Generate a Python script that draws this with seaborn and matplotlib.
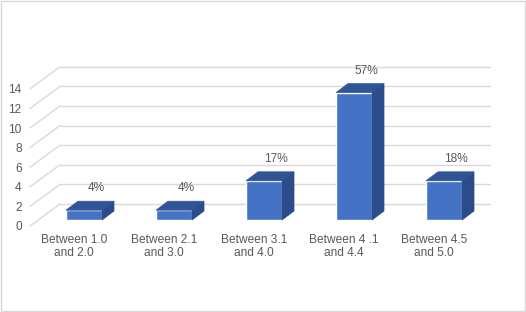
import numpy as np
import pandas as pd
import matplotlib
matplotlib.use("Agg")
import matplotlib.pyplot as plt
import seaborn as sns
from matplotlib.patches import Polygon, Rectangle
from matplotlib.transforms import IdentityTransform, ScaledTranslation

# data
categories = ["Between 1.0\nand 2.0", "Between 2.1\nand 3.0", "Between 3.1\nand 4.0",
              "Between 4 .1\nand 4.4", "Between 4.5\nand 5.0"]
counts = [1, 1, 4, 13, 4]
pct_labels = ["4%", "4%", "17%", "57%", "18%"]
y_ticks = [0, 2, 4, 6, 8, 10, 12, 14]

FRONT = "#4472C4"
TOP = "#2F5597"
SIDE = "#2B4C8A"
GRID = "#D9D9D9"
TXT = "#595959"

sns.set_style("white")
plt.rcParams["font.family"] = ["Liberation Sans", "DejaVu Sans"]

DPI = 100
W, H = 526, 312
fig = plt.figure(figsize=(W / DPI, H / DPI), dpi=DPI)

# axes placed so bar fronts land where the reference has them
ax = fig.add_axes([30 / W, (H - 229.8) / H, 460 / W, 171.5 / H])
ax.patch.set_visible(False)
df = pd.DataFrame({"cat": categories, "n": counts})
sns.barplot(data=df, x="cat", y="n", color=FRONT, saturation=1, width=0.4,
            ax=ax, zorder=3)
ax.set_xlim(-0.6, 4.511)
ax.set_ylim(-1, 16.5)
for s in ax.spines.values():
    s.set_visible(False)
ax.set_xlabel("")
ax.set_ylabel("")
ax.tick_params(length=0)

# tick labels
ax.set_yticks(y_ticks)
ax.set_yticklabels([str(t) for t in y_ticks], fontsize=8.6, color=TXT)
ax.tick_params(axis="y", pad=6)
for lab in ax.get_yticklabels():
    lab.set_transform(lab.get_transform() + ScaledTranslation(0, -0.06, fig.dpi_scale_trans))
ax.tick_params(axis="x", pad=3)
for lab in ax.get_xticklabels():
    lab.set_fontsize(8.6)
    lab.set_color(TXT)
    lab.set_linespacing(1.1)
    lab.set_multialignment("center")
    lab.set_transform(lab.get_transform() + ScaledTranslation(-0.10, 0, fig.dpi_scale_trans))

ax.figure.canvas.draw()
ident = IdentityTransform()


def px(x, y, dx=0, dy=0):
    p = ax.transData.transform((x, y))
    return (p[0] + dx, p[1] + dy)


# back wall gridlines and left diagonal lines (behind the axes)
x_back0 = -0.267
for t in y_ticks:
    a = px(x_back0, t, 0, 16)
    b = px(ax.get_xlim()[1], t, 0, 16)
    fig.add_artist(plt.Line2D([a[0], b[0]], [a[1], b[1]], color=GRID, lw=1,
                              transform=ident, zorder=-2))
    c = px(-0.6, t, 0, -6)
    fig.add_artist(plt.Line2D([c[0], a[0]], [c[1], a[1]], color=GRID, lw=1,
                              transform=ident, zorder=-2))

# 3D top and side faces built on seaborn's bars
DX, DY = 12, 9
for p, lab in zip(ax.patches, pct_labels):
    x0, w, h = p.get_x(), p.get_width(), p.get_height()
    tl, tr = px(x0, h), px(x0 + w, h)
    br = px(x0 + w, 0)
    top = Polygon([tl, tr, (tr[0] + DX, tr[1] + DY), (tl[0] + DX, tl[1] + DY)],
                  closed=True, facecolor=TOP, edgecolor=TOP, lw=0.5, transform=ident)
    side = Polygon([br, tr, (tr[0] + DX, tr[1] + DY), (br[0] + DX, br[1] + DY)],
                   closed=True, facecolor=SIDE, edgecolor=SIDE, lw=0.5, transform=ident)
    fig.add_artist(side)
    fig.add_artist(top)
    ax.annotate(lab, (x0 + w / 2, h), xytext=(8.6, 15.8), textcoords="offset points",
                ha="center", va="center", fontsize=8.6, color=TXT)

# chart border
fig.add_artist(Rectangle((0.5, 1.0), 524, 310.5, transform=ident, fill=False,
                         edgecolor=GRID, lw=1))

fig.savefig("out.png", dpi=DPI)
